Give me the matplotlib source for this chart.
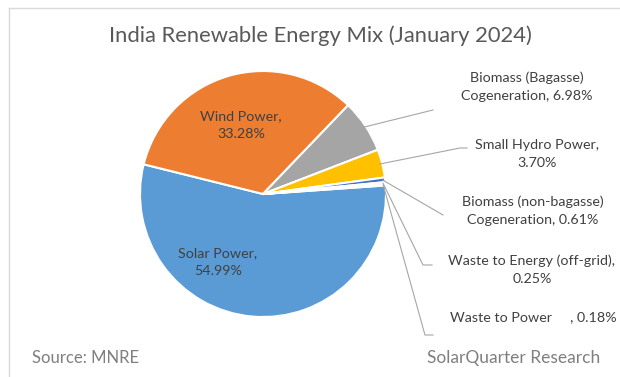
import matplotlib
matplotlib.use("Agg")
import matplotlib.pyplot as plt
import numpy as np

plt.rcParams['font.family'] = ['Lato', 'DejaVu Sans']

title = "India Renewable Energy Mix (January 2024)"
categories = ["Solar Power", "Wind Power", "Biomass (Bagasse)\nCogeneration",
              "Small Hydro Power", "Biomass (non-bagasse)\nCogeneration",
              "Waste to Energy (off-grid)", "Waste to Power     "]
values = [54.99, 33.28, 6.98, 3.70, 0.61, 0.25, 0.18]
colors = ["#5B9BD5", "#ED7D31", "#A5A5A5", "#FFC000", "#4472C4", "#70AD47", "#264478"]
source_text = "Source: MNRE"
credit_text = "SolarQuarter Research"

W, H = 620, 377
fig = plt.figure(figsize=(W / 100, H / 100), dpi=100)
fig.patch.set_facecolor("white")

cx, cy, r = 263, 194, 123
pie_ax = fig.add_axes([(cx - r) / W, (H - cy - r) / H, 2 * r / W, 2 * r / H])
wedges, _ = pie_ax.pie(values, colors=colors, startangle=4, counterclock=False,
                       wedgeprops=dict(edgecolor="white", linewidth=1.5))
pie_ax.set_xlim(-1, 1)
pie_ax.set_ylim(-1, 1)
pie_ax.axis("off")

# overlay axes in pixel coordinates (on top of the pie)
ov = fig.add_axes([0, 0, 1, 1])
ov.set_zorder(3)
ov.patch.set_alpha(0)
ov.set_xlim(0, W)
ov.set_ylim(H, 0)
ov.axis("off")
ov.plot([9, 9], [8, H], color="#d9d9d9", lw=1.0)
ov.plot([9, W], [8, 8], color="#d9d9d9", lw=1.0)

txt_color = "#404040"
fs = 10.3
ls = 1.6

# inside labels
for i, (px, py) in [(0, (218, 262)), (1, (241, 125))]:
    ov.text(px, py, f"{categories[i]},\n{values[i]:.2f}%", ha="center", va="center",
            fontsize=fs, color=txt_color, linespacing=ls)

# outside labels: text position (px), leader line end points (px)
outside = {
    2: ((527, 87), [(433, 110)]),
    3: ((537, 154), [(460, 148), (467, 148)]),
    4: ((533, 211), [(443, 215)]),
    5: ((532, 270), [(423, 265), (432, 265)]),
    6: ((533, 317), [(425, 335), (433, 335)]),
}

def to_px(x, y):
    return ov.transData.inverted().transform(pie_ax.transData.transform((x, y)))

for i, ((tx, ty), pts) in outside.items():
    w = wedges[i]
    mid = np.deg2rad((w.theta1 + w.theta2) / 2)
    sx, sy = to_px(np.cos(mid) * 0.98, np.sin(mid) * 0.98)
    xs = [sx] + [p[0] for p in pts]
    ys = [sy] + [p[1] for p in pts]
    ov.plot(xs, ys, color="#a6a6a6", lw=0.8)
    if i in (3, 5):
        s = f"{categories[i]},\n{values[i]:.2f}%"
    else:
        s = f"{categories[i]}, {values[i]:.2f}%"
    ov.text(tx, ty, s, ha="center", va="center", fontsize=fs, color=txt_color,
            linespacing=ls)

ov.text(320, 36, title, ha="center", va="center", fontsize=15.8, color="#595959")
ov.text(32, 358, source_text, ha="left", va="center", fontsize=12, color="#7f7f7f")
ov.text(600, 358, credit_text, ha="right", va="center", fontsize=12.5, color="#7f7f7f")

fig.savefig("out.png", dpi=100, facecolor="white")
